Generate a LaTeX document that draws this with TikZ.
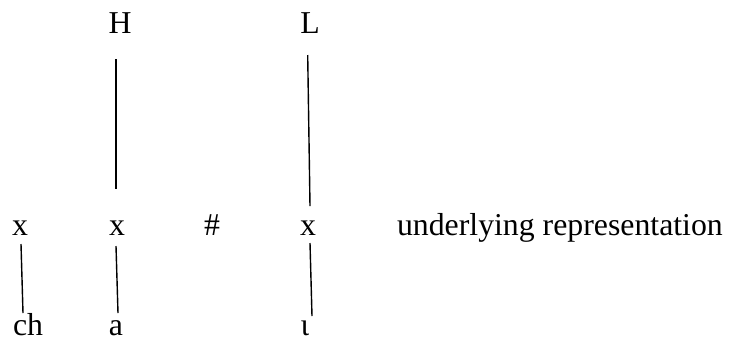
\documentclass[tikz,border=0pt]{standalone}
\usepackage{fontspec}
\setmainfont{Liberation Serif}
\begin{document}
\begin{tikzpicture}[x=0.5pt,y=-0.5pt,
  lbl/.style={inner sep=0pt,outer sep=0pt,anchor=base,font=\fontsize{15.9}{19}\selectfont},
  assoc/.style={line width=0.7pt,draw=black}]
\useasboundingbox (0,0) rectangle (729,339);
% tones
\node[lbl] (H) at (120,33) {H};
\node[lbl] (L) at (310,33) {L};
% skeleton
\node[lbl] (x1) at (20,235) {x};
\node[lbl] (x2) at (117,235) {x};
\node[lbl] (hash) at (212,235) {\#};
\node[lbl] (x3) at (308,235) {x};
\node[lbl,anchor=base west] (ur) at (397,235) {underlying representation};
% segments
\node[lbl,anchor=base west] (ch) at (13,335) {ch};
\node[lbl] (a) at (116,335) {a};
\node[lbl] (iota) at (305,335) {ι};
% connector end points
\coordinate (Hb) at (116,59);
\coordinate (x2t) at (116,189);
\coordinate (Lb) at (307.7,55);
\coordinate (x3t) at (310,206);
\coordinate (x1b) at (21,244);
\coordinate (cht) at (23,313);
\coordinate (x2b) at (116,246);
\coordinate (at) at (118,313);
\coordinate (x3b) at (310,243);
\coordinate (it) at (312,316);
\draw[assoc] (Hb) -- (x2t);
\draw[assoc] (Lb) -- (x3t);
\draw[assoc] (x1b) -- (cht);
\draw[assoc] (x2b) -- (at);
\draw[assoc] (x3b) -- (it);
\end{tikzpicture}
\end{document}
